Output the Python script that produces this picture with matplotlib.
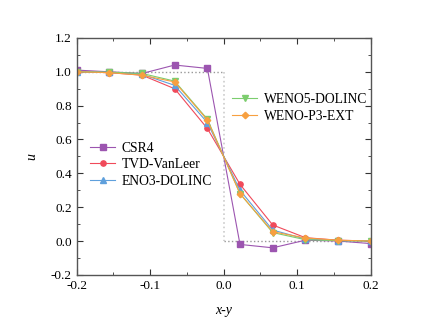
import numpy as np
import matplotlib
matplotlib.use('Agg')
import matplotlib.pyplot as plt
from matplotlib.ticker import MultipleLocator

plt.rcParams['font.family'] = ['Liberation Serif', 'DejaVu Serif']

x = [-0.2, -0.1556, -0.1111, -0.0667, -0.0222, 0.0222, 0.0667, 0.1111, 0.1556, 0.2]
csr4 = [1.01, 1.0, 0.99, 1.04, 1.02, -0.02, -0.04, 0.005, 0.0, -0.015]
tvd = [1.0, 0.995, 0.98, 0.90, 0.665, 0.335, 0.095, 0.02, 0.005, 0.0]
eno3 = [1.0, 0.997, 0.985, 0.92, 0.70, 0.30, 0.065, 0.012, 0.003, 0.0]
weno5 = [1.0, 0.998, 0.99, 0.945, 0.72, 0.28, 0.05, 0.008, 0.002, 0.0]
wenop3 = [1.0, 0.995, 0.98, 0.94, 0.715, 0.28, 0.055, 0.018, 0.005, 0.0]
exact_x = [-0.2, 0.0, 0.0, 0.2]
exact_u = [1.0, 1.0, 0.0, 0.0]

fig = plt.figure(figsize=(4.31, 3.3), dpi=100)
ax = fig.add_axes([0.178, 0.167, 0.682, 0.718])

# exact solution (dotted step)
ax.plot(exact_x[:2], exact_u[:2], ls=':', color='#999999', lw=1.0)
ax.plot(exact_x[1:3], exact_u[1:3], ls=':', color='#cccccc', lw=1.2)
ax.plot(exact_x[2:], exact_u[2:], ls=':', color='#999999', lw=1.0)

kw = dict(lw=0.8, ms=3.8)
l1, = ax.plot(x, csr4, marker='s', color='#9c55b0', label='CSR4', **kw)
l2, = ax.plot(x, tvd, marker='o', color='#f04a5a', label='TVD-VanLeer', **kw)
l3, = ax.plot(x, eno3, marker='^', color='#5fa0dc', label='ENO3-DOLINC', **kw)
l4, = ax.plot(x, weno5, marker='v', color='#7ccd6e', label='WENO5-DOLINC', **kw)
l5, = ax.plot(x, wenop3, marker='D', color='#f7a040', label='WENO-P3-EXT', ms=3.3, lw=0.8)

ax.set_xlim(-0.2, 0.2)
ax.set_ylim(-0.2, 1.2)
ax.xaxis.set_major_locator(MultipleLocator(0.1))
ax.xaxis.set_minor_locator(MultipleLocator(0.05))
ax.yaxis.set_major_locator(MultipleLocator(0.2))
ax.yaxis.set_minor_locator(MultipleLocator(0.1))
ax.tick_params(which='both', direction='in', top=True, right=True, labelsize=9.5, color='#333333')
ax.tick_params(which='major', length=4)
ax.tick_params(which='minor', length=2.5)
ax.xaxis.set_major_formatter(plt.FuncFormatter(lambda v, p: f'{v:.1f}'))
ax.yaxis.set_major_formatter(plt.FuncFormatter(lambda v, p: f'{v:.1f}'))
for s in ax.spines.values():
    s.set_color('#555555')
    s.set_linewidth(1.0)

ax.set_xlabel('x-y', style='italic', fontsize=10, labelpad=9)
ax.set_ylabel('u', style='italic', fontsize=10, labelpad=9)

leg_kw = dict(loc='upper left', frameon=False, fontsize=9.8, handlelength=1.8,
              handletextpad=0.5, labelspacing=0.25, borderaxespad=0)
leg1 = ax.legend(handles=[l1, l2, l3], bbox_to_anchor=(0.028, 0.585), **leg_kw)
ax.add_artist(leg1)
ax.legend(handles=[l4, l5], bbox_to_anchor=(0.511, 0.79), **leg_kw)

fig.savefig('out.png', dpi=100)
